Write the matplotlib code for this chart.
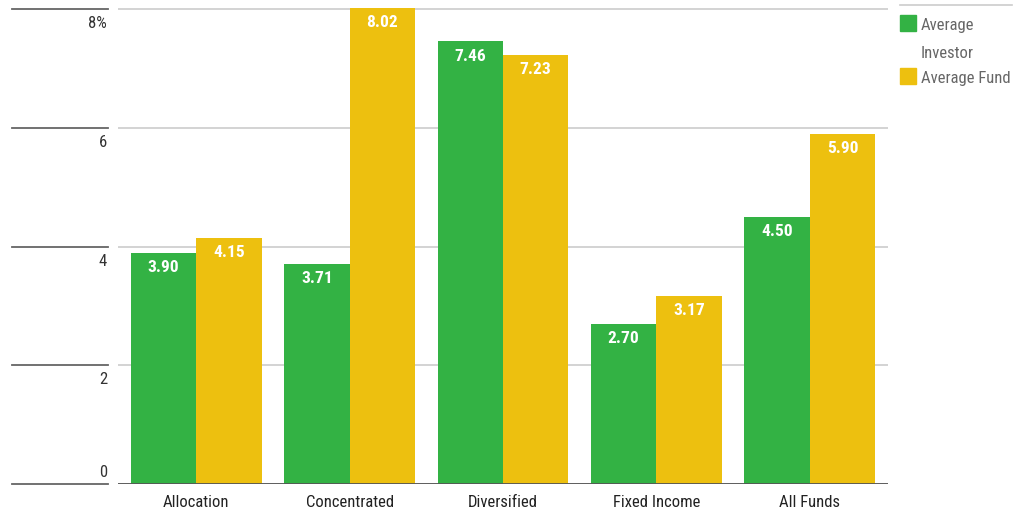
import matplotlib
matplotlib.use("Agg")
import matplotlib.pyplot as plt
import matplotlib.transforms as mtransforms
from matplotlib.lines import Line2D
from matplotlib.patches import Rectangle
import numpy as np

categories = ["Allocation", "Concentrated", "Diversified", "Fixed Income", "All Funds"]
investor = [3.90, 3.71, 7.46, 2.70, 4.50]
fund = [4.15, 8.02, 7.23, 3.17, 5.90]
series_names = ["Average\nInvestor", "Average Fund"]
series_colors = ["#33b244", "#edc00f"]
yticks = [0, 2, 4, 6, 8]
ytick_labels = ["0", "2", "4", "6", "8%"]

plt.rcParams["font.family"] = ["Roboto Condensed", "DejaVu Sans"]

fig = plt.figure(figsize=(10.3, 5.15), dpi=100)
W, H = 1030, 515
ax = fig.add_axes([118 / W, 1 - 484 / H, (888 - 118) / W, (484 - 5) / H])

x = np.arange(len(categories))
bw = 0.427
b1 = ax.bar(x - bw / 2, investor, bw, color=series_colors[0], zorder=2)
b2 = ax.bar(x + bw / 2, fund, bw, color=series_colors[1], zorder=2)

for bars, vals in ((b1, investor), (b2, fund)):
    for rect, v in zip(bars, vals):
        ax.annotate("%.2f" % v, (rect.get_x() + rect.get_width() / 2, v),
                    xytext=(0, -15), textcoords="offset pixels",
                    ha="center", va="center", color="white",
                    fontsize=12.5, fontweight="bold", zorder=3)

ax.set_xlim(-0.51, 4.51)
ax.set_ylim(0, 8.07)
ax.set_yticks(yticks)
ax.yaxis.grid(True, color="#cccccc", linewidth=1.2, zorder=0)
ax.tick_params(axis="y", length=0, labelleft=False)
ax.tick_params(axis="x", length=0, pad=8, labelsize=12, labelcolor="#222222")
ax.set_xticks(x)
ax.set_xticklabels(categories)
for s in ax.spines.values():
    s.set_visible(False)
ax.axhline(0, color="#555555", linewidth=1.3, zorder=3)

# left-hand scale: rules with labels hanging under them (zero sits on top)
blend = mtransforms.blended_transform_factory(fig.transFigure, ax.transData)
for t, lab in zip(yticks, ytick_labels):
    fig.add_artist(Line2D([12 / W, 108 / W], [t, t], transform=blend,
                          color="#666666", linewidth=1.3, clip_on=False))
    if t == 0:
        off, va = (0, 4), "bottom"
    else:
        off, va = (0, -7), "top"
    ax.annotate(lab, (107 / W, t), xycoords=blend, xytext=off,
                textcoords="offset pixels", ha="right", va=va,
                fontsize=12, color="#333333", annotation_clip=False)

# legend at the right
fig.add_artist(Line2D([900 / W, 1012 / W], [1 - 5 / H, 1 - 5 / H],
                      transform=fig.transFigure, color="#cccccc", linewidth=1.2))
leg_tops = [15, 68]
for top, name, col in zip(leg_tops, series_names, series_colors):
    fig.add_artist(Rectangle((900 / W, 1 - (top + 16) / H), 16 / W, 16 / H,
                             transform=fig.transFigure, color=col))
    fig.text(921 / W, 1 - (top + 3) / H, name, ha="left", va="top",
             fontsize=12, color="#666666", linespacing=2.05)

fig.savefig("out.png", dpi=100)
